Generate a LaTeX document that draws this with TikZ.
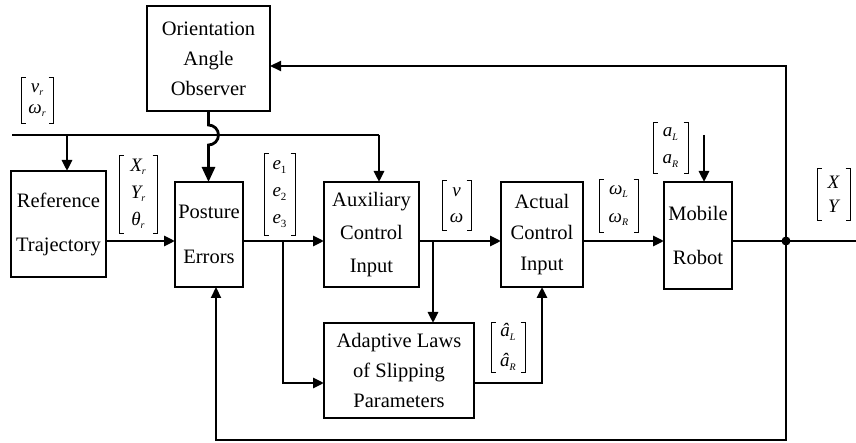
\documentclass[tikz,border=0pt]{standalone}
\usepackage{fontspec}
\setmainfont{Liberation Serif}
\usetikzlibrary{arrows.meta,calc}
\newcommand\sbs[1]{\raisebox{-0.4ex}{\fontsize{10}{10}\selectfont\itshape #1}}
\newcommand\sbu[1]{\raisebox{-0.4ex}{\fontsize{11}{11}\selectfont\upshape #1}}
\newcommand\brvec[5]{%
  \coordinate (#1-nw) at (#2);
  \coordinate (#1-se) at (#3);
  \node[vec, font={\fontsize{19}{#4}\selectfont\itshape}] (#1) at ($(#1-nw)!0.5!(#1-se)$) {#5};
  \draw[brk] ($(#1-nw)+(4.5,0)$) -- (#1-nw) -- (#1-nw |- #1-se) -- ($(#1-nw |- #1-se)+(4.5,0)$);
  \draw[brk] ($(#1-se |- #1-nw)+(-4.5,0)$) -- (#1-se |- #1-nw) -- (#1-se) -- ($(#1-se)+(-4.5,0)$);
}
\begin{document}
\begin{tikzpicture}[x=1pt,y=-1pt,
  blk/.style={draw, line width=2.6pt, inner sep=0pt, outer sep=0pt, align=center},
  arr/.style={line width=2.8pt, -{Triangle[length=11pt,width=10pt]}},
  bigarr/.style={line width=2.8pt, -{Triangle[length=15pt,width=13pt]}},
  ln/.style={line width=2.8pt},
  fb/.style={line width=2.2pt},
  vec/.style={inner sep=0pt, align=center},
  brk/.style={line width=0.8pt}]
\useasboundingbox (0,0) rectangle (856,443);

% blocks
\node[blk, minimum width=123, minimum height=105, font={\fontsize{20.5}{30}\selectfont}] (oao) at (208.5,58.5) {Orientation\\Angle\\Observer};
\node[blk, minimum width=95, minimum height=106, font={\fontsize{20.5}{44}\selectfont}] (ref) at (58.5,224) {Reference\\Trajectory};
\node[blk, minimum width=68, minimum height=105, font={\fontsize{20.5}{45}\selectfont}] (pos) at (209,234.5) {Posture\\Errors};
\node[blk, minimum width=95, minimum height=105, font={\fontsize{20.5}{33}\selectfont}] (aux) at (371.5,234.5) {Auxiliary\\Control\\Input};
\node[blk, minimum width=82, minimum height=105, font={\fontsize{20.5}{31}\selectfont}] (act) at (542,234.5) {Actual\\Control\\Input};
\node[blk, minimum width=68, minimum height=107, font={\fontsize{20.5}{44}\selectfont}] (mob) at (698,235.5) {Mobile\\Robot};
\node[blk, minimum width=150, minimum height=95, font={\fontsize{20.5}{30}\selectfont}] (ada) at (399,370.5) {Adaptive Laws\\of Slipping\\Parameters};

% vectors
\brvec{vr}{21,77}{53,123}{21}{v\sbs{r}\\ω\sbs{r}}
\brvec{xr}{119,155}{157,233}{27}{X\sbs{r}\\Y\sbs{r}\\θ\sbs{r}}
\brvec{ev}{264,153}{295,235}{27}{e\sbu{1}\\e\sbu{2}\\e\sbu{3}}
\brvec{vw}{442,180}{471,230}{26}{v\\ω}
\brvec{wl}{599,179}{638,232}{28}{ω\sbs{L}\\ω\sbs{R}}
\brvec{al}{653,122}{688,173}{27}{a\sbs{L}\\a\sbs{R}}
\brvec{ah}{491,322}{525,372}{30}{â\sbs{L}\\â\sbs{R}}
\brvec{xy}{817,168}{850,220}{24}{X\\Y}

% coordinates
\coordinate (top) at (12,135);
\coordinate (row) at (0,241);
\coordinate (arow) at (0,383);
\coordinate (b1) at (283,241);
\coordinate (b2) at (433,241);
\coordinate (j) at (786,241);
\coordinate (fbtop) at (786,66);
\coordinate (fbbot) at (786,440);
\coordinate (ain) at (704,135);
\coordinate (out) at (856,241);

% reference input line
\draw[ln] (top) -- (379,135);
\draw[arr] ([xshift=8.5]ref.north |- top) -- ([xshift=8.5]ref.north);
\draw[arr] (379,135) -- ([xshift=7.5]aux.north);

% observer to posture with hop
\draw[bigarr] (oao.south) -- ++(0,14) arc[start angle=-90,end angle=90,radius=10] -- (oao.south |- pos.north);

% forward path
\draw[arr] (ref.east |- row) -- (pos.west |- row);
\draw[arr] (pos.east |- row) -- (aux.west |- row);
\draw[arr] (aux.east |- row) -- (act.west |- row);
\draw[arr] (act.east |- row) -- (mob.west |- row);
\draw[ln] (mob.east |- row) -- (out);
\fill (j) circle (4.5);

% branches
\draw[arr] (b1) |- (ada.west |- arow);
\draw[arr] (b2) -- (b2 |- ada.north);
\draw[arr] (ada.east |- arow) -| (act.south);
\draw[arr] (ain) -- (ain |- mob.north);

% feedback
\draw[fb, -{Triangle[length=11pt,width=10pt]}] (j) -- (fbtop) -- (oao.east |- fbtop);
\draw[fb, -{Triangle[length=11pt,width=10pt]}] (j) -- (fbbot) -| ([xshift=7]pos.south);
\end{tikzpicture}
\end{document}
